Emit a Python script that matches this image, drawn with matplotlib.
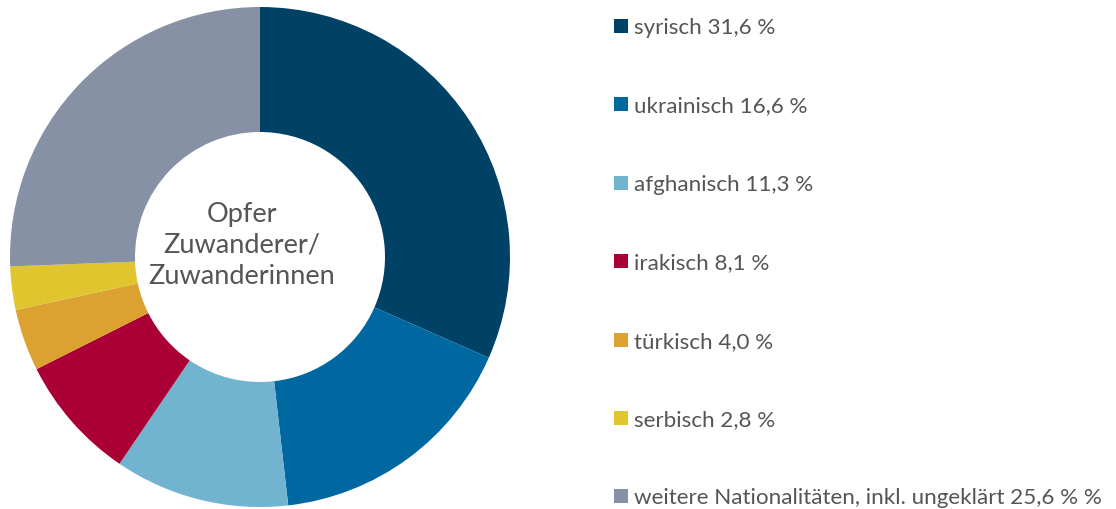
import matplotlib
matplotlib.use("Agg")
import matplotlib.pyplot as plt
from matplotlib.patches import Rectangle

# --- data ---
labels = ["syrisch", "ukrainisch", "afghanisch", "irakisch", "türkisch", "serbisch",
          "weitere Nationalitäten, inkl. ungeklärt"]
shares = [31.6, 16.6, 11.3, 8.1, 4.0, 2.8, 25.6]
legend_texts = ["syrisch 31,6 %", "ukrainisch 16,6 %", "afghanisch 11,3 %", "irakisch 8,1 %",
                "türkisch 4,0 %", "serbisch 2,8 %",
                "weitere Nationalitäten, inkl. ungeklärt 25,6 % %"]
colors = ["#004166", "#0068A0", "#72B4D0", "#AA0035", "#DBA232", "#E0C52E", "#8791A5"]
center_label = "Opfer\nZuwanderer/\nZuwanderinnen"

plt.rcParams['font.family'] = ['Lato', 'DejaVu Sans']
text_color = "#555555"

W, H = 1116, 510
fig = plt.figure(figsize=(W / 100, H / 100), dpi=100)

# donut
ax = fig.add_axes([10 / W, 2 / H, 500 / W, 500 / H])
ax.pie(shares, colors=colors, startangle=90, counterclock=False,
       wedgeprops=dict(width=0.5, edgecolor="none"))
ax.set_xlim(-1, 1)
ax.set_ylim(-1, 1)
ax.set_aspect("equal")
ax.text(-0.072, 0.05, center_label, ha="center", va="center", fontsize=19.5,
        color=text_color, linespacing=1.3)

# legend drawn by hand
y0, dy = 27, 78.4
for i, (txt, col) in enumerate(zip(legend_texts, colors)):
    yc = y0 + i * dy
    fig.patches.append(Rectangle((614 / W, 1 - (yc + 7) / H), 14 / W, 14 / H,
                                 transform=fig.transFigure, facecolor=col,
                                 edgecolor="none"))
    fig.text(634 / W, 1 - (yc + 1) / H, txt, ha="left", va="center",
             fontsize=16.1, color=text_color)

fig.savefig("out.png", dpi=100)
